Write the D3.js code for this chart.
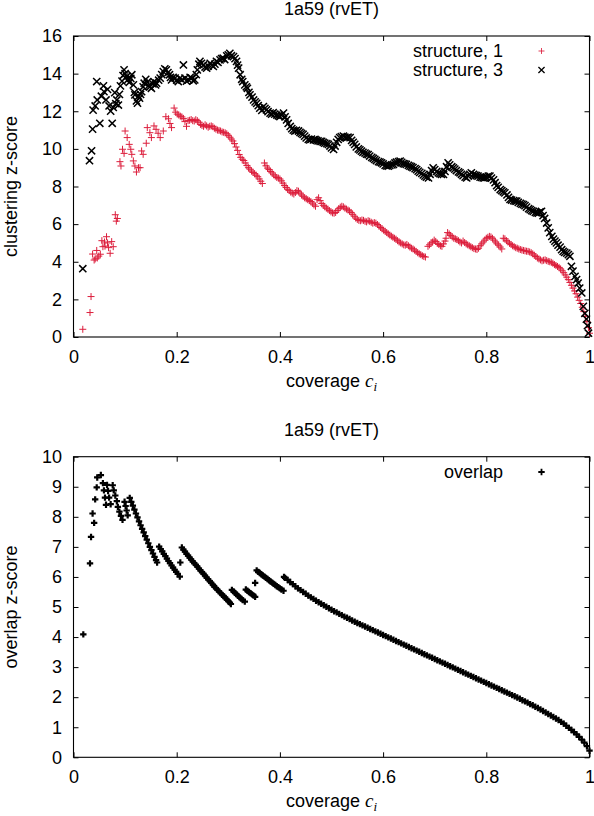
<!DOCTYPE html>
<html><head><meta charset="utf-8">
<script src="https://cdn.jsdelivr.net/npm/d3@7"></script>
<style>
body{margin:0;background:#fff}
svg{display:block}
text{font-family:"Liberation Sans",Arial,Helvetica,sans-serif;fill:#000}
</style>
</head><body>
<svg id="c" width="594" height="816"></svg>
<script>
const chartTitle = "1a59 (rvET)";
const xTicks = [0, 0.2, 0.4, 0.6, 0.8, 1];
const xTickLabels = ["0", "0.2", "0.4", "0.6", "0.8", "1"];
const yTicksTop = [0, 2, 4, 6, 8, 10, 12, 14, 16];
const yTicksBot = [0, 1, 2, 3, 4, 5, 6, 7, 8, 9, 10];
const seriesNames = ["structure, 1", "structure, 3"];
const overlapName = "overlap";

// structure, 1 : [coverage, clustering z-score]
const struct1 = [
[0.018,0.41],[0.032,1.30],[0.034,2.15],[0.037,4.41],[0.040,4.09],[0.042,4.15],[0.045,4.60],[0.046,4.20],[0.049,4.30],[0.052,4.40],[0.055,5.12],[0.057,4.80],[0.060,5.05],[0.061,4.83],[0.064,5.33],[0.066,5.00],[0.068,4.75],[0.071,4.45],[0.074,5.07],[0.077,4.80],[0.081,6.50],[0.083,6.16],[0.085,6.30],
[0.090,9.32],[0.092,9.09],[0.095,9.98],[0.098,9.76],[0.100,10.95],[0.104,10.60],[0.108,10.24],[0.111,9.98],[0.113,9.71],[0.116,9.36],[0.119,9.09],[0.122,8.77],[0.126,9.00],[0.129,9.00],[0.132,9.89],[0.135,9.71],[0.141,10.30],[0.143,11.13],[0.148,10.86],[0.151,10.60],[0.156,11.22],[0.160,11.04],[0.164,10.83],[0.168,10.60],[0.174,10.95],[0.179,11.71],[0.184,11.60],[0.187,11.35],[0.190,11.13],
[0.195,12.17],[0.198,11.95],[0.201,11.85],[0.204,11.80],[0.207,11.74],[0.210,11.70],[0.213,11.62],[0.216,11.45],[0.219,11.20],[0.222,11.50],[0.225,11.52],[0.228,11.56],[0.231,11.50],[0.234,11.48],[0.237,11.55],[0.240,11.50],[0.243,11.42],[0.246,11.30],[0.249,11.25],[0.252,11.20],[0.255,11.28],[0.258,11.22],[0.261,11.15],[0.264,11.20],[0.267,11.22],[0.270,11.18],[0.273,11.10],[0.276,11.05],[0.279,11.00],[0.282,10.98],[0.285,10.95],[0.288,10.90],[0.291,10.88],[0.294,10.85],[0.297,10.80],[0.300,10.72],[0.303,10.62],[0.306,10.52],[0.309,10.42],[0.312,10.28],[0.315,10.10],[0.318,9.92],[0.321,9.70],[0.324,9.55],[0.327,9.45],[0.330,9.38],[0.333,9.25],[0.336,9.12],[0.339,9.00],[0.342,8.92],[0.345,8.82],[0.348,8.75],[0.351,8.68],[0.354,8.60],[0.357,8.52],[0.360,8.40],[0.363,8.28],[0.366,8.16],
[0.370,9.25],[0.373,9.10],[0.376,8.98],[0.379,8.90],[0.382,8.80],[0.385,8.72],[0.388,8.62],[0.391,8.55],[0.394,8.48],[0.397,8.45],[0.400,8.40],[0.403,8.30],[0.406,8.18],[0.409,8.05],[0.412,7.95],[0.415,7.85],[0.418,7.78],[0.421,7.70],[0.424,7.65],[0.427,7.60],[0.430,7.68],[0.433,7.78],[0.436,7.75],[0.439,7.65],[0.442,7.55],[0.445,7.48],[0.448,7.40],[0.451,7.35],[0.454,7.30],[0.457,7.25],[0.460,7.20],[0.463,7.12],[0.466,7.02],[0.469,6.95],[0.472,7.30],[0.475,7.40],[0.478,7.25],[0.481,7.10],[0.484,7.00],[0.487,6.92],[0.490,6.85],[0.493,6.80],[0.496,6.72],[0.499,6.65],[0.502,6.60],[0.505,6.58],[0.508,6.62],[0.511,6.72],[0.514,6.82],[0.517,6.90],[0.520,6.95],[0.523,6.92],[0.526,6.85],[0.529,6.80],[0.532,6.75],[0.535,6.70],[0.538,6.62],[0.541,6.52],[0.544,6.42],[0.547,6.32],[0.550,6.25],[0.553,6.20],[0.556,6.18],[0.559,6.22],[0.562,6.20],[0.565,6.15],[0.568,6.12],[0.571,6.18],[0.574,6.15],[0.577,6.10],[0.580,6.05],[0.583,6.08],[0.586,6.05],[0.589,5.98],[0.592,5.90],[0.595,5.82],[0.598,5.75],[0.601,5.68],[0.604,5.62],[0.607,5.55],[0.610,5.48],[0.613,5.42],[0.616,5.36],[0.619,5.30],[0.622,5.25],[0.625,5.20],[0.628,5.12],[0.631,5.05],[0.634,5.00],[0.637,4.95],[0.640,4.90],[0.643,4.88],[0.646,4.92],[0.649,4.85],[0.652,4.78],[0.655,4.72],[0.658,4.68],[0.661,4.62],[0.664,4.55],[0.667,4.48],[0.670,4.42],[0.673,4.38],[0.676,4.32],[0.679,4.28],[0.682,4.25],
[0.687,4.82],[0.690,4.90],[0.693,5.00],[0.696,5.05],[0.699,5.15],[0.702,5.08],[0.705,4.98],[0.708,4.92],[0.711,4.85],[0.714,4.82],[0.717,4.95],[0.720,5.10],[0.722,5.25],[0.725,5.55],[0.728,5.48],[0.731,5.40],[0.734,5.32],[0.737,5.25],[0.740,5.22],[0.743,5.18],[0.746,5.12],[0.749,5.05],[0.752,5.00],[0.755,5.10],[0.758,5.02],[0.761,4.95],[0.764,4.90],[0.767,4.85],[0.770,4.80],[0.773,4.75],[0.776,4.70],[0.779,4.68],[0.782,4.65],[0.785,4.72],[0.788,4.85],[0.791,4.95],[0.794,5.05],[0.797,5.15],[0.800,5.25],[0.803,5.30],[0.806,5.35],[0.809,5.32],[0.812,5.25],[0.815,5.15],[0.818,5.05],[0.821,4.95],[0.824,4.88],[0.827,4.78],[0.830,4.68],[0.833,5.25],[0.836,5.22],[0.839,5.12],[0.842,5.05],[0.845,4.98],[0.848,4.92],[0.851,4.85],[0.854,4.80],[0.857,4.75],[0.860,4.72],[0.863,4.68],[0.866,4.65],[0.869,4.62],[0.872,4.60],[0.875,4.58],[0.878,4.56],[0.881,4.55],[0.884,4.52],[0.887,4.48],[0.890,4.42],[0.893,4.35],[0.896,4.28],[0.899,4.20],[0.902,4.15],[0.905,4.10],[0.908,4.05],[0.911,4.08],[0.914,4.10],[0.917,4.06],[0.920,4.02],[0.923,4.00],[0.926,3.97],[0.929,3.92],[0.932,3.85],[0.935,3.80],[0.938,3.75],[0.941,3.70],[0.944,3.62],[0.947,3.52],[0.950,3.42],[0.953,3.30],[0.956,3.18],[0.959,3.05],[0.962,2.90],[0.965,2.75],[0.968,2.60],[0.971,2.45],[0.974,2.30],[0.977,2.12],[0.980,1.95],[0.983,1.78],[0.986,1.58],[0.989,1.35],[0.992,1.10],[0.995,0.82],[0.998,0.50],[1.000,0.20]
];

// structure, 3 : [coverage, clustering z-score]
const struct3 = [
[0.018,3.63],[0.031,9.37],[0.035,9.90],[0.037,11.05],[0.038,12.06],[0.042,12.28],[0.045,13.58],[0.046,12.60],[0.051,11.36],[0.054,12.80],[0.058,13.35],[0.059,13.04],[0.063,12.60],[0.066,13.16],[0.069,12.28],[0.072,12.01],[0.075,11.36],[0.077,12.20],[0.080,12.99],[0.082,12.40],[0.084,12.60],[0.087,12.33],[0.089,12.90],[0.091,13.35],[0.094,13.60],[0.096,13.90],[0.098,14.20],[0.100,14.00],[0.103,13.85],[0.106,13.70],[0.108,13.53],[0.111,13.75],[0.113,13.94],[0.116,13.40],[0.118,13.00],[0.119,12.87],[0.122,12.55],[0.124,12.43],[0.126,12.80],[0.128,12.70],[0.130,12.90],[0.132,13.04],[0.135,13.30],[0.137,13.49],[0.140,13.70],[0.143,13.55],[0.145,13.35],[0.148,13.30],[0.151,13.22],[0.154,13.45],[0.156,13.58],[0.159,13.40],[0.161,13.49],[0.165,13.65],[0.168,13.76],[0.171,13.95],[0.174,14.11],[0.177,14.25],[0.180,14.20],[0.183,14.05],[0.186,13.94],[0.188,13.80],[0.190,13.67],[0.193,13.80],[0.197,13.76],[0.200,13.65],[0.203,13.58],[0.206,13.75],[0.210,13.67],[0.213,14.46],[0.216,13.76],[0.219,13.60],[0.223,13.67],[0.226,13.80],[0.229,13.76],[0.232,13.62],[0.235,13.67],[0.238,13.95],[0.240,14.20],[0.243,14.50],[0.245,14.65],[0.248,14.55],[0.252,14.46],[0.255,14.35],[0.258,14.29],[0.261,14.40],[0.265,14.55],[0.268,14.45],[0.271,14.38],[0.274,14.50],[0.277,14.65],[0.280,14.60],[0.284,14.73],[0.287,14.80],[0.290,14.82],[0.293,14.75],[0.297,14.94],[0.300,15.00],[0.303,15.08],[0.306,14.95],[0.310,14.90],[0.313,14.80],[0.316,14.65],[0.318,14.45],[0.320,14.29],[0.323,13.94],[0.326,13.70],[0.328,13.58],[0.332,13.40],[0.335,13.30],[0.337,13.22],[0.340,13.00],[0.342,12.87],[0.346,12.75],[0.349,12.60],[0.352,12.50],[0.355,12.42],[0.358,12.30],[0.361,12.16],[0.365,12.05],[0.368,12.25],[0.371,12.15],[0.374,12.07],[0.377,11.98],[0.381,11.90],[0.384,11.85],[0.387,11.92],[0.390,11.85],[0.394,11.80],[0.397,11.76],[0.400,11.72],[0.403,11.80],[0.407,11.90],[0.410,11.70],[0.413,11.54],[0.416,11.35],[0.420,11.19],[0.423,11.08],[0.426,11.00],[0.429,10.95],[0.432,10.98],[0.436,10.95],[0.439,10.88],[0.442,10.82],[0.445,10.77],[0.448,10.68],[0.451,10.58],[0.455,10.50],[0.458,10.48],[0.461,10.52],[0.465,10.48],[0.468,10.50],[0.471,10.45],[0.474,10.42],[0.478,10.40],[0.481,10.40],[0.484,10.35],[0.487,10.30],[0.491,10.28],[0.494,10.24],[0.497,10.15],[0.500,10.05],[0.504,9.97],[0.507,10.15],[0.510,10.35],[0.513,10.50],[0.516,10.60],[0.519,10.65],[0.523,10.68],[0.526,10.62],[0.529,10.58],[0.532,10.62],[0.536,10.60],[0.539,10.45],[0.542,10.35],[0.545,10.24],[0.548,10.10],[0.552,10.00],[0.555,9.95],[0.558,9.88],[0.561,9.82],[0.565,9.78],[0.568,9.72],[0.571,9.70],[0.574,9.62],[0.578,9.55],[0.581,9.50],[0.584,9.44],[0.587,9.38],[0.591,9.32],[0.594,9.30],[0.597,9.26],[0.600,9.20],[0.604,9.12],[0.607,9.10],[0.610,9.08],[0.613,9.12],[0.617,9.15],[0.620,9.17],[0.623,9.25],[0.626,9.30],[0.630,9.32],[0.633,9.35],[0.636,9.28],[0.639,9.22],[0.642,9.20],[0.645,9.17],[0.649,9.12],[0.652,9.08],[0.655,9.05],[0.658,9.00],[0.662,8.95],[0.665,8.90],[0.668,8.82],[0.671,8.75],[0.675,8.70],[0.678,8.62],[0.681,8.55],[0.684,8.50],[0.688,8.46],[0.691,8.65],[0.694,8.85],[0.697,8.99],[0.700,8.90],[0.704,8.80],[0.707,8.73],[0.710,8.68],[0.713,8.65],[0.717,8.64],[0.720,8.80],[0.723,9.05],[0.726,9.26],[0.729,9.15],[0.733,9.05],[0.736,8.99],[0.739,8.92],[0.742,8.85],[0.746,8.78],[0.749,8.73],[0.752,8.65],[0.755,8.58],[0.759,8.50],[0.762,8.46],[0.765,8.55],[0.768,8.65],[0.771,8.73],[0.775,8.65],[0.778,8.60],[0.781,8.58],[0.784,8.55],[0.788,8.50],[0.791,8.48],[0.794,8.46],[0.797,8.46],[0.800,8.50],[0.804,8.55],[0.807,8.55],[0.810,8.45],[0.814,8.35],[0.817,8.20],[0.820,8.05],[0.823,7.95],[0.827,7.84],[0.830,7.78],[0.833,7.72],[0.836,7.66],[0.840,7.55],[0.843,7.42],[0.846,7.31],[0.849,7.28],[0.853,7.25],[0.856,7.22],[0.859,7.22],[0.862,7.15],[0.866,7.10],[0.869,7.06],[0.872,7.04],[0.875,6.98],[0.878,6.90],[0.882,6.82],[0.885,6.77],[0.888,6.72],[0.891,6.68],[0.895,6.62],[0.898,6.60],[0.901,6.58],[0.904,6.65],[0.907,6.68],[0.910,6.45],[0.913,6.30],[0.917,6.06],[0.920,5.80],[0.923,5.55],[0.927,5.35],[0.930,5.20],[0.933,5.10],[0.936,5.00],[0.939,4.88],[0.943,4.78],[0.946,4.64],[0.949,4.55],[0.952,4.50],[0.956,4.46],[0.959,4.38],[0.962,4.29],[0.965,3.76],[0.968,3.50],[0.972,3.22],[0.975,3.05],[0.978,2.87],[0.981,2.60],[0.985,2.34],[0.988,1.63],[0.991,1.26],[0.994,0.95],[0.996,0.60],[0.998,0.20]
];

// overlap : [coverage, overlap z-score]
const overlap = [
[0.019,4.09],[0.032,6.45],[0.034,7.33],[0.037,8.11],[0.040,7.80],[0.042,8.58],[0.045,8.98],[0.046,9.31],[0.053,9.39],
[0.057,9.12],[0.059,8.88],[0.061,8.64],[0.063,8.40],
[0.065,9.06],[0.067,8.86],[0.069,8.64],[0.072,8.42],
[0.076,9.05],[0.078,8.88],[0.081,8.71],[0.084,8.52],[0.086,8.33],[0.089,8.17],[0.092,8.03],[0.095,7.90],
[0.099,8.50],[0.101,8.36],[0.103,8.21],[0.105,8.05],
[0.109,8.63],[0.112,8.50],[0.115,8.37],[0.118,8.24],[0.121,8.11],[0.124,7.98],[0.127,7.85],[0.130,7.72],[0.133,7.60],[0.136,7.48],[0.139,7.36],[0.142,7.24],[0.145,7.12],[0.148,7.00],[0.151,6.89],[0.154,6.78],[0.157,6.67],[0.160,6.56],[0.162,6.48],
[0.166,7.01],[0.169,6.93],[0.172,6.85],[0.175,6.77],[0.178,6.69],[0.181,6.61],[0.184,6.53],[0.187,6.46],[0.190,6.38],[0.193,6.31],[0.196,6.24],[0.199,6.17],[0.202,6.10],[0.206,6.01],
[0.207,6.48],
[0.210,6.98],[0.213,6.91],[0.216,6.84],[0.219,6.77],[0.222,6.71],[0.225,6.64],[0.228,6.58],[0.231,6.52],[0.234,6.46],[0.237,6.40],[0.240,6.34],[0.243,6.28],[0.246,6.22],[0.249,6.16],[0.252,6.10],[0.255,6.04],[0.258,5.98],[0.261,5.92],[0.264,5.86],[0.267,5.80],[0.270,5.74],[0.273,5.68],[0.276,5.63],[0.279,5.57],[0.282,5.52],[0.285,5.46],[0.288,5.41],[0.291,5.36],[0.294,5.31],[0.297,5.25],[0.300,5.20],[0.303,5.15],[0.305,5.10],
[0.307,5.57],[0.310,5.52],[0.313,5.47],[0.316,5.42],[0.319,5.37],[0.322,5.32],[0.325,5.28],[0.328,5.23],[0.332,5.18],
[0.334,5.58],[0.337,5.54],[0.340,5.50],[0.343,5.46],[0.346,5.42],[0.349,5.38],[0.352,5.34],
[0.352,5.80],
[0.355,6.22],[0.358,6.17],[0.361,6.13],[0.364,6.09],[0.367,6.05],[0.370,6.01],[0.373,5.97],[0.376,5.93],[0.379,5.89],[0.382,5.85],[0.385,5.81],[0.388,5.77],[0.391,5.73],[0.394,5.69],[0.397,5.66],[0.400,5.62],[0.403,5.58],[0.407,5.54],
[0.408,6.00],[0.410,5.97],[0.415,5.90],[0.420,5.83],[0.425,5.76],[0.430,5.69],[0.435,5.62],[0.440,5.56],[0.445,5.50],[0.450,5.44],[0.455,5.38],[0.460,5.32],[0.465,5.27],[0.470,5.21],[0.475,5.16],[0.480,5.11],[0.485,5.06],[0.490,5.01],[0.495,4.96],[0.500,4.91],[0.505,4.86],[0.510,4.82],[0.515,4.77],[0.520,4.73],[0.525,4.68],[0.530,4.64],[0.535,4.60],[0.540,4.55],[0.545,4.51],[0.550,4.47],[0.555,4.43],[0.560,4.39],[0.565,4.35],[0.570,4.31],[0.575,4.27],[0.580,4.23],[0.585,4.19],[0.590,4.15],[0.595,4.11],[0.600,4.07],[0.605,4.03],[0.610,3.99],[0.615,3.95],[0.620,3.91],[0.625,3.87],[0.630,3.83],[0.635,3.79],[0.640,3.75],[0.645,3.71],[0.650,3.67],[0.655,3.63],[0.660,3.59],[0.665,3.55],[0.670,3.51],[0.675,3.47],[0.680,3.43],[0.685,3.39],[0.690,3.35],[0.695,3.31],[0.700,3.27],[0.705,3.23],[0.710,3.19],[0.715,3.15],[0.720,3.11],[0.725,3.07],[0.730,3.03],[0.735,2.99],[0.740,2.95],[0.745,2.91],[0.750,2.87],[0.755,2.83],[0.760,2.79],[0.765,2.75],[0.770,2.71],[0.775,2.67],[0.780,2.63],[0.785,2.59],[0.790,2.55],[0.795,2.51],[0.800,2.47],[0.805,2.43],[0.810,2.39],[0.815,2.35],[0.820,2.31],[0.825,2.27],[0.830,2.23],[0.835,2.19],[0.840,2.15],[0.845,2.11],[0.850,2.07],[0.855,2.03],[0.860,1.99],[0.865,1.95],[0.870,1.90],[0.875,1.86],[0.880,1.82],[0.885,1.77],[0.890,1.73],[0.895,1.68],[0.900,1.64],[0.905,1.59],[0.910,1.54],[0.915,1.49],[0.920,1.44],[0.925,1.39],[0.930,1.34],[0.935,1.29],[0.940,1.24],[0.945,1.18],[0.950,1.12],[0.955,1.05],[0.960,0.98],[0.965,0.91],[0.970,0.84],[0.975,0.76],[0.980,0.68],[0.985,0.59],[0.990,0.49],[0.995,0.37],[1.000,0.22]
];

const RED = "#dc1e3c";
const PLUS = "M-3.5,0H3.5M0,-3.5V3.5";
const PLUS_B = "M-3.2,0H3.2M0,-3.2V3.2";
const CROSS = "M-3.6,-3.6L3.6,3.6M-3.6,3.6L3.6,-3.6";
const FONT = 18;

const svg = d3.select("#c");
const x = d3.scaleLinear().domain([0, 1]).range([73.5, 589.5]);

function panel(top, bottom, yMax, yTicks, ylabel) {
  const y = d3.scaleLinear().domain([0, yMax]).range([bottom, top]);
  const g = svg.append("g");
  const styleAxis = sel => {
    sel.select(".domain").remove();
    sel.selectAll(".tick line").attr("stroke", "#000").attr("stroke-width", 1);
    sel.selectAll("text").attr("font-size", FONT).attr("font-family", '"Liberation Sans", Arial, sans-serif').attr("fill", "#000");
  };
  g.append("g").attr("transform", `translate(0,${bottom})`)
    .call(d3.axisBottom(x).tickValues(xTicks).tickFormat((d, i) => xTickLabels[i]).tickSizeInner(-5).tickSizeOuter(0).tickPadding(13))
    .call(styleAxis);
  g.append("g").attr("transform", `translate(0,${top})`)
    .call(d3.axisTop(x).tickValues(xTicks).tickFormat("").tickSizeInner(-5).tickSizeOuter(0))
    .call(styleAxis);
  g.append("g").attr("transform", `translate(${x(0)},0)`)
    .call(d3.axisLeft(y).tickValues(yTicks).tickFormat(d3.format("d")).tickSizeInner(-5).tickSizeOuter(0).tickPadding(11.5))
    .call(styleAxis);
  g.append("g").attr("transform", `translate(${x(1)},0)`)
    .call(d3.axisRight(y).tickValues(yTicks).tickFormat("").tickSizeInner(-5).tickSizeOuter(0))
    .call(styleAxis);
  g.append("rect").attr("x", x(0)).attr("y", top).attr("width", x(1) - x(0)).attr("height", bottom - top)
    .attr("fill", "none").attr("stroke", "#000").attr("stroke-width", 1.1);
  g.append("text").attr("x", (x(0) + x(1)) / 2).attr("y", top - 21).attr("text-anchor", "middle")
    .attr("font-size", FONT).text(chartTitle);
  g.append("text").attr("transform", `translate(16.5,${(top + bottom) / 2}) rotate(-90)`)
    .attr("text-anchor", "middle").attr("font-size", FONT).text(ylabel);
  const xl = g.append("text").attr("x", (x(0) + x(1)) / 2).attr("y", bottom + 49.5).attr("text-anchor", "middle").attr("font-size", FONT);
  xl.append("tspan").text("coverage ");
  xl.append("tspan").attr("font-family", '"Liberation Serif", "Times New Roman", serif').attr("font-style", "italic").attr("font-size", 19).text("c");
  xl.append("tspan").attr("font-family", '"Liberation Serif", "Times New Roman", serif').attr("font-style", "italic").attr("font-size", 13).attr("dy", 4).text("i");
  return { g, y };
}

// top panel
const P1 = panel(36, 337, 16, yTicksTop, "clustering z-score");
P1.g.append("g").selectAll("path").data(struct1).join("path")
  .attr("transform", d => `translate(${x(d[0])},${P1.y(d[1])})`)
  .attr("d", PLUS).attr("stroke", RED).attr("stroke-width", 1).attr("fill", "none");
P1.g.append("g").selectAll("path").data(struct3).join("path")
  .attr("transform", d => `translate(${x(d[0])},${P1.y(d[1])})`)
  .attr("d", CROSS).attr("stroke", "#000").attr("stroke-width", 1.5).attr("fill", "none");
const leg1 = P1.g.append("g");
[[seriesNames[0], PLUS, RED, 1, 57], [seriesNames[1], CROSS, "#000", 1.5, 76]].forEach(([name, shape, col, sw, yb]) => {
  leg1.append("text").attr("x", 503).attr("y", yb).attr("text-anchor", "end").attr("font-size", FONT).text(name);
  leg1.append("path").attr("transform", `translate(541.5,${yb - 6}) scale(0.85)`).attr("d", shape)
    .attr("stroke", col).attr("stroke-width", sw).attr("fill", "none");
});

// bottom panel
const P2 = panel(456.7, 757.3, 10, yTicksBot, "overlap z-score");
P2.g.append("g").selectAll("path").data(overlap).join("path")
  .attr("transform", d => `translate(${x(d[0])},${P2.y(d[1])})`)
  .attr("d", PLUS_B).attr("stroke", "#000").attr("stroke-width", 2.2).attr("fill", "none");
P2.g.append("text").attr("x", 503).attr("y", 478).attr("text-anchor", "end").attr("font-size", FONT).text(overlapName);
P2.g.append("path").attr("transform", "translate(541.5,472)").attr("d", PLUS_B)
  .attr("stroke", "#000").attr("stroke-width", 1.8).attr("fill", "none");
</script>
</body></html>
